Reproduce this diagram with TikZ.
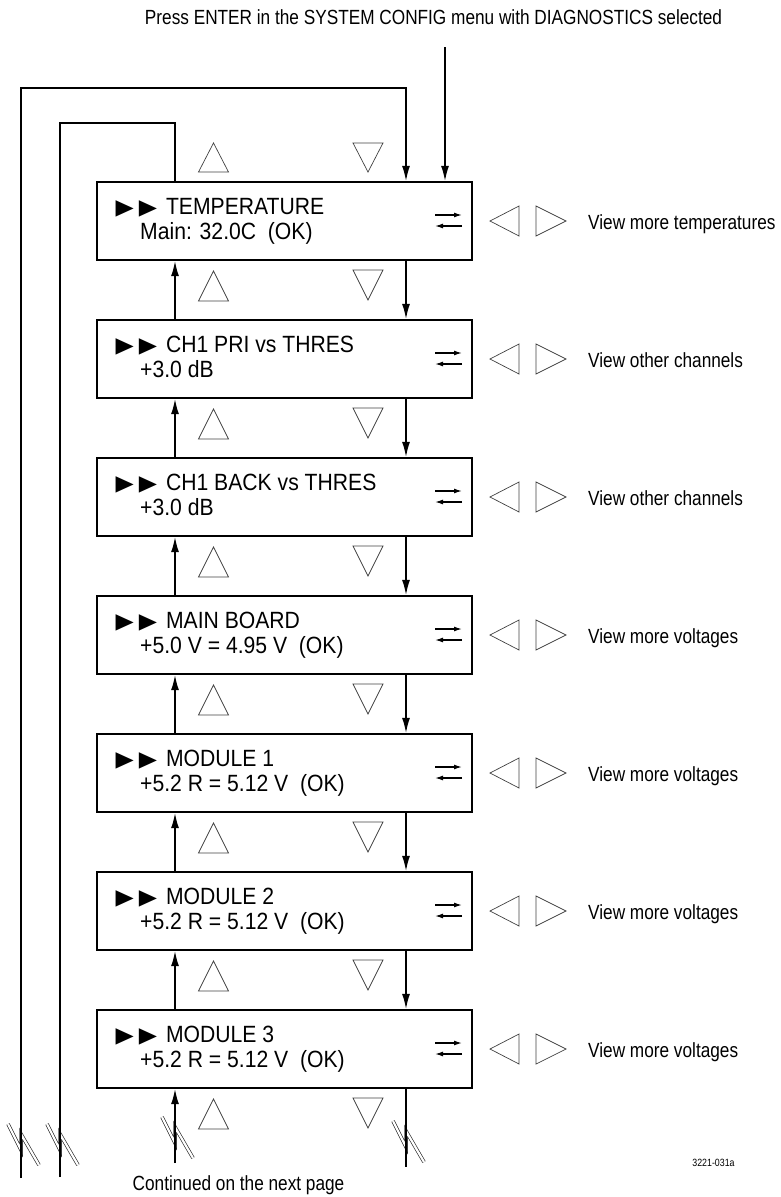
\documentclass[tikz,border=0pt]{standalone}
\usepackage{fontspec}
\setmainfont{Liberation Sans}
\newfontfamily\boxfont[FakeStretch=0.9]{Liberation Sans}
\newfontfamily\labfont[FakeStretch=0.84]{Liberation Sans}
\newfontfamily\symfont[FakeStretch=1.1]{DejaVu Sans}
\newcommand{\tri}{{\symfont\fontsize{21.5}{24}\selectfont ▶\kern5pt▶}\kern9pt}
\usetikzlibrary{arrows.meta,calc}
\begin{document}
\begin{tikzpicture}[x=1pt,y=-1pt,
  box/.style={draw,line width=2.4pt,minimum width=375pt,minimum height=78pt,inner sep=0pt},
  conn/.style={line width=1.2pt},
  arr/.style={conn,-{Latex[length=15pt,width=8pt]}},
  swap/.style={line width=1.3pt,-{Latex[length=8pt,width=5pt]}},
  tri/.style={draw=black!75,line width=0.7pt},
  boxtxt/.style={anchor=base west,inner sep=0pt,font=\boxfont\fontsize{23.5}{27}\selectfont},
  side/.style={anchor=base west,inner sep=0pt,font=\labfont\fontsize{20.5}{24}\selectfont},
  plain/.style={anchor=base,inner sep=0pt,font=\labfont\fontsize{20.5}{24}\selectfont},
  brk/.style={draw=black!85,line width=0.65pt,double=white,double distance=2.2pt},
  brkpic/.pic={\draw[brk] (-13,0) -- (0,26) -- (0,10) -- (18,41);}
]
\useasboundingbox (0,0) rectangle (780,1197);

% title and input
\node[plain] (title) at (433.5,24.5) {Press ENTER in the SYSTEM CONFIG menu with DIAGNOSTICS selected};
\coordinate (in) at (445,47);

% boxes
\foreach \i/\la/\lb/\sd in {
  1/{TEMPERATURE}/{Main: 32.0C~~(OK)}/{View more temperatures},
  2/{CH1 PRI vs THRES}/{+3.0 dB}/{View other channels},
  3/{CH1 BACK vs THRES}/{+3.0 dB}/{View other channels},
  4/{MAIN BOARD}/{+5.0 V = 4.95 V~~(OK)}/{View more voltages},
  5/{MODULE 1}/{+5.2 R = 5.12 V~~(OK)}/{View more voltages},
  6/{MODULE 2}/{+5.2 R = 5.12 V~~(OK)}/{View more voltages},
  7/{MODULE 3}/{+5.2 R = 5.12 V~~(OK)}/{View more voltages}}{
  \pgfmathsetmacro{\T}{182+138*(\i-1)}
  \node[box] (b\i) at (284.5,\T+39) {};
  \node[boxtxt] (la\i) at (115.5,\T+32) {\tri\la};
  \node[boxtxt] (lb\i) at (140,\T+57) {\lb};
  \node[side] (sd\i) at (588,\T+47) {\sd};
  % left / right keys
  \draw[tri] (519,\T+24) -- (490,\T+39) -- (519,\T+54) -- cycle;
  \draw[tri] (536,\T+24) -- (566,\T+39) -- (536,\T+54) -- cycle;
  % exchange symbol
  \draw[swap] (435,\T+33) -- (462,\T+33);
  \draw[swap] (462,\T+44) -- (435,\T+44);
  % up / down keys below the box
  \draw[tri] (198.5,\T+119) -- (213.5,\T+89) -- (228.5,\T+119) -- cycle;
  \draw[tri] (353,\T+88) -- (383,\T+88) -- (368,\T+118) -- cycle;
}
% up / down keys above first box
\draw[tri] (198.5,172) -- (213.5,143) -- (228.5,172) -- cycle;
\draw[tri] (353,143) -- (383,143) -- (368,172) -- cycle;

% column coordinates
\coordinate (ux) at (175,0);
\coordinate (dx) at (406,0);

% break marks
\pic at (21,1124) {brkpic};
\pic at (60,1124) {brkpic};
\pic at (175,1117) {brkpic};
\pic at (406,1121) {brkpic};

% connectors between boxes
\foreach \i [evaluate=\i as \j using int(\i+1)] in {1,...,6}{
  \draw[arr] (b\j.north -| ux) -- (b\i.south -| ux);
  \draw[arr] (b\i.south -| dx) -- (b\j.north -| dx);
}

% input arrow
\draw[arr] (in) -- (b1.north -| in);

% loops back to the top
\coordinate (l1) at (21,1178);
\coordinate (k1) at (406,88);
\draw[arr] (l1) |- (k1) -- (b1.north -| k1);
\coordinate (l2) at (60,1177);
\coordinate (k2) at (175,123);
\draw[conn] (l2) |- (k2) -- (b1.north -| k2);

% continuation at the bottom
\coordinate (ue) at (175,1163);
\draw[arr] (ue) -- (b7.south -| ue);
\coordinate (de) at (406,1167);
\draw[conn] (b7.south -| de) -- (de);

\node[plain] (cont) at (238.5,1190) {Continued on the next page};
\node[anchor=base,inner sep=0pt,font=\labfont\fontsize{10.5}{12}\selectfont] (fig) at (713.5,1166.5) {3221-031a};
\end{tikzpicture}
\end{document}
